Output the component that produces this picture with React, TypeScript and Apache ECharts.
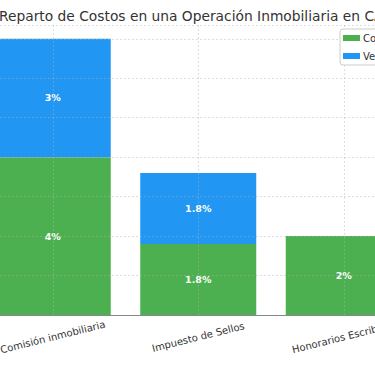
import React, { useEffect, useRef } from "react";
import * as echarts from "echarts";

const titleText = "Reparto de Costos en una Operación Inmobiliaria en CABA";
const categories = ["Comisión inmobiliaria", "Impuesto de Sellos", "Honorarios Escribano"];
const compradorValues = [4, 1.8, 2];
const vendedorValues = [3, 1.8, 0];
const seriesNames = ["Comprador", "Vendedor"];
const yTicks = [0, 1, 2, 3, 4, 5, 6, 7];

const FONT = "DejaVu Sans";

export default function App() {
  const ref = useRef<HTMLDivElement>(null);
  useEffect(() => {
    if (!ref.current) return;
    const chart = echarts.init(ref.current, undefined, { renderer: "svg" });
    const label = {
      show: true,
      position: "inside",
      color: "#fff",
      fontWeight: "bold",
      fontSize: 9.5,
      fontFamily: FONT,
      formatter: (p: any) => (p.value ? `${p.value}%` : ""),
    };
    chart.setOption({
      animation: false,
      backgroundColor: "#fff",
      graphic: [
        {
          type: "text",
          x: -1,
          y: 16,
          style: {
            text: titleText,
            textAlign: "left",
            textVerticalAlign: "middle",
            fontFamily: FONT,
            fontSize: 13.8,
            fill: "#333",
          },
        },
      ],
      legend: {
        left: 340,
        top: 29,
        orient: "vertical",
        itemWidth: 17,
        itemHeight: 6,
        itemGap: 8,
        padding: [4, 6, 4, 3],
        borderColor: "#ccc",
        borderWidth: 1,
        borderRadius: 3,
        backgroundColor: "#fff",
        icon: "rect",
        textStyle: { fontFamily: FONT, fontSize: 10, color: "#333", padding: [0, 0, 0, -2] },
        data: seriesNames,
      },
      grid: { left: -20, width: 436.5, top: 25, height: 290, outerBoundsMode: "none", containLabel: false },
      xAxis: {
        type: "category",
        data: categories,
        z: 3,
        axisLine: { lineStyle: { color: "#888", width: 1 } },
        axisTick: { alignWithLabel: true, length: 3, lineStyle: { color: "#555" } },
        axisLabel: {
          rotate: 14,
          margin: 22,
          align: "center",
          verticalAlign: "middle",
          fontFamily: FONT,
          fontSize: 10,
          color: "#333",
          interval: 0,
        },
        splitLine: {
          show: true,
          alignWithLabel: true,
          lineStyle: { color: "rgba(180,180,180,0.55)", type: [2, 2], width: 0.8 },
        },
      },
      yAxis: {
        type: "value",
        min: yTicks[0],
        max: 7.35,
        interval: 1,
        z: 3,
        axisLabel: { show: false },
        axisLine: { show: false },
        axisTick: { show: false },
        splitLine: {
          show: true,
          lineStyle: { color: "rgba(180,180,180,0.55)", type: [2, 2], width: 0.8 },
        },
      },
      series: [
        {
          name: seriesNames[0],
          type: "bar",
          stack: "total",
          data: compradorValues,
          barWidth: 116,
          itemStyle: { color: "#4CAF50" },
          label,
        },
        {
          name: seriesNames[1],
          type: "bar",
          stack: "total",
          data: vendedorValues,
          barWidth: 116,
          itemStyle: { color: "#2196F3" },
          label,
        },
      ],
    });
    return () => chart.dispose();
  }, []);
  return (
    <div
      ref={ref}
      style={{ position: "fixed", left: 0, top: 0, width: 375, height: 366 }}
    />
  );
}
